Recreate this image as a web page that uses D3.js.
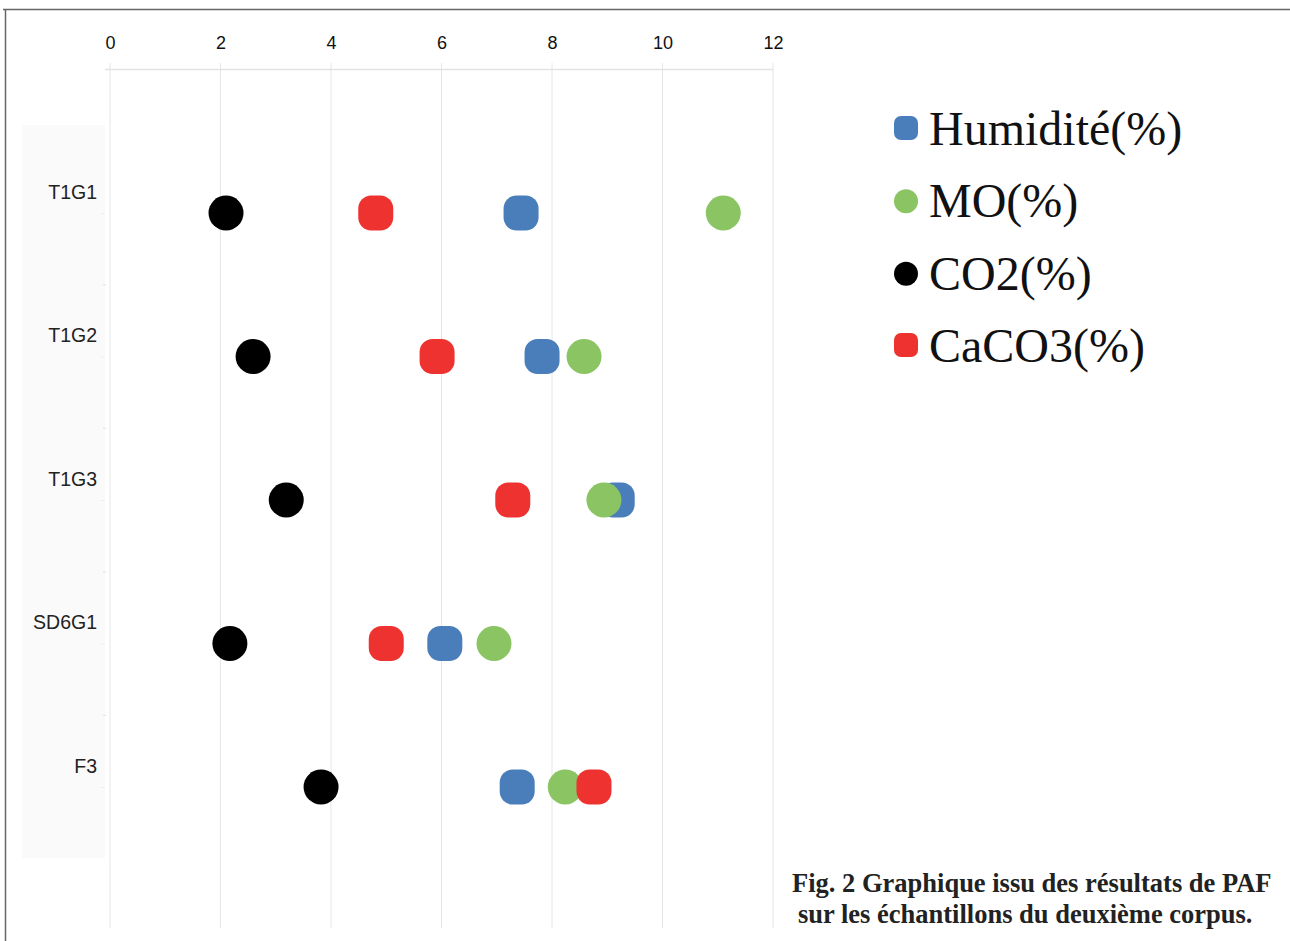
<!DOCTYPE html>
<html><head><meta charset="utf-8">
<script src="https://cdn.jsdelivr.net/npm/d3@7"></script>
<style>html,body{margin:0;padding:0;background:#fff;}svg{display:block;}</style>
</head><body>
<script>
const categories = ["T1G1", "T1G2", "T1G3", "SD6G1", "F3"];
const seriesNames = ["Humidité(%)", "MO(%)", "CO2(%)", "CaCO3(%)"];
const humidite = [7.44, 7.82, 9.18, 6.06, 7.37];
const mo = [11.1, 8.58, 8.94, 6.95, 8.24];
const co2 = [2.1, 2.59, 3.19, 2.17, 3.82];
const caco3 = [4.81, 5.92, 7.29, 5.0, 8.76];
const xTicks = [0, 2, 4, 6, 8, 10, 12];
const captionLines = ["Fig. 2 Graphique issu des résultats de PAF", "sur les échantillons du deuxième corpus."];

const seriesValues = [humidite, mo, co2, caco3];
const colors = ["#4a7ebb", "#8bc462", "#000000", "#ee3230"];
const shapes = ["round", "circle", "circle", "round"];

const W = 1290, H = 941;
const svg = d3.select("body").append("svg").attr("width", W).attr("height", H);

// frame lines
svg.append("line").attr("x1", 3).attr("x2", W).attr("y1", 9.5).attr("y2", 9.5).attr("stroke", "#666").attr("stroke-width", 1.5);
svg.append("line").attr("x1", 5.5).attr("x2", 5.5).attr("y1", 9).attr("y2", H).attr("stroke", "#666").attr("stroke-width", 1.5);

const x = d3.scaleLinear().domain([0, 12]).range([110, 773]);
const y = d3.scalePoint().domain(categories).range([213, 787]);
const step = y.step();

// left label band
svg.append("rect").attr("x", 22).attr("y", 125).attr("width", 83).attr("height", 733).attr("fill", "#fafafa");

// gridlines
svg.append("g").selectAll("line").data(xTicks).join("line")
  .attr("x1", d => x(d)).attr("x2", d => x(d)).attr("y1", 63).attr("y2", 928)
  .attr("stroke", "#e6e6e6").attr("stroke-width", 1);
// top axis line
svg.append("line").attr("x1", 105).attr("x2", 773).attr("y1", 69.5).attr("y2", 69.5).attr("stroke", "#e3e3e3").attr("stroke-width", 1.5);

// x tick labels via axis
const xAxis = svg.append("g").attr("transform", "translate(0,49)")
  .call(d3.axisTop(x).tickValues(xTicks).tickSize(0).tickPadding(0).tickFormat(d3.format("d")));
xAxis.select(".domain").remove();
xAxis.selectAll("text").attr("font-family", "Liberation Sans, Arial, sans-serif").attr("font-size", 18).attr("fill", "#111");

// y labels
const yAxis = svg.append("g").attr("transform", "translate(105,0)")
  .call(d3.axisLeft(y).tickSize(4).tickPadding(4));
yAxis.select(".domain").remove();
yAxis.selectAll("line").attr("stroke", "#eeeeee");
yAxis.selectAll("text").attr("dy", "-0.75em").attr("font-family", "Liberation Sans, Arial, sans-serif").attr("font-size", 19.5).attr("fill", "#222");
// minor ticks between categories
svg.append("g").selectAll("line").data(categories.slice(0, -1)).join("line")
  .attr("x1", 103).attr("x2", 106).attr("y1", d => y(d) + step / 2).attr("y2", d => y(d) + step / 2)
  .attr("stroke", "#e0e0e0");

// points
const r = 17.5;
seriesValues.forEach((vals, si) => {
  const g = svg.append("g");
  vals.forEach((v, ci) => {
    const cx = x(v), cy = y(categories[ci]);
    if (shapes[si] === "round") {
      g.append("rect").attr("x", cx - r).attr("y", cy - r).attr("width", 2 * r).attr("height", 2 * r)
        .attr("rx", 13).attr("ry", 13).attr("fill", colors[si]);
    } else {
      g.append("circle").attr("cx", cx).attr("cy", cy).attr("r", r).attr("fill", colors[si]);
    }
  });
});

// legend
const legendY = d3.scalePoint().domain(seriesNames).range([128, 345]);
const lg = svg.append("g");
seriesNames.forEach((name, si) => {
  const cy = legendY(name);
  if (shapes[si] === "round") {
    lg.append("rect").attr("x", 894).attr("y", cy - 12).attr("width", 24).attr("height", 24).attr("rx", 7).attr("fill", colors[si]);
  } else {
    lg.append("circle").attr("cx", 906).attr("cy", cy + 1).attr("r", 12).attr("fill", colors[si]);
  }
  lg.append("text").attr("x", 929).attr("y", cy + 17).text(name)
    .attr("font-family", "Liberation Serif, Times New Roman, serif").attr("font-size", 48).attr("fill", "#111");
});

// caption
const cap = svg.append("g");
cap.append("text").attr("x", 792).attr("y", 892).text(captionLines[0])
  .attr("font-family", "Liberation Serif, Times New Roman, serif").attr("font-weight", "bold").attr("font-size", 26.5).attr("fill", "#222");
cap.append("text").attr("x", 798).attr("y", 923).text(captionLines[1])
  .attr("font-family", "Liberation Serif, Times New Roman, serif").attr("font-weight", "bold").attr("font-size", 26.5).attr("fill", "#222");
</script>
</body></html>
